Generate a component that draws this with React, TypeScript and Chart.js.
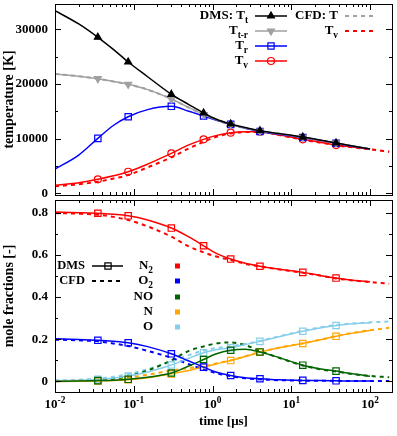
import React, { useEffect, useRef } from "react";
import { Chart, registerables } from "chart.js";

Chart.register(...registerables);

const FONT = '"Liberation Serif", "Times New Roman", serif';

// ---------- data ----------
const timeUs = [0.01, 0.02, 0.035, 0.055, 0.085, 0.15, 0.3, 0.5, 0.77, 1.1, 1.7, 2.6, 4, 7, 14, 25, 37, 60, 100];
const cfdTimeUs = [0.01, 0.02, 0.035, 0.055, 0.085, 0.15, 0.3, 0.5, 0.77, 1.1, 1.7, 2.6, 4, 7, 14, 25, 37, 60, 100, 175];
const markerIndex = [2, 4, 6, 8, 10, 12, 14, 16];

// temperatures [K]
const dmsTt = [33380, 30950, 28520, 26320, 24000, 21310, 18100, 16230, 14680, 13580, 12670, 12030, 11440, 10930, 10290, 9650, 9200, 8650, 8100];
const dmsTtr = [21810, 21400, 20950, 20450, 19920, 18950, 17240, 15700, 14400, 13500, 12600, 11950, 11380, 10880, 10250, 9620, 9180, 8640, 8100];
const dmsTr = [4440, 7000, 10050, 12400, 14000, 15300, 15900, 15000, 14130, 13400, 12600, 11900, 11300, 10800, 10200, 9600, 9150, 8600, 8100];
const dmsTv = [1500, 1950, 2560, 3200, 3950, 5350, 7310, 8850, 9870, 10550, 11080, 11280, 11260, 10700, 9870, 9250, 8830, 8450, 8100];
const cfdT = [21810, 21400, 20950, 20450, 19920, 18950, 17240, 15650, 14350, 13450, 12550, 11900, 11350, 10850, 10200, 9600, 9150, 8600, 8050, 7600];
const cfdTv = [1300, 1650, 2120, 2700, 3350, 4750, 6580, 8200, 9430, 10300, 10950, 11200, 11200, 10650, 9800, 9200, 8780, 8400, 8050, 7600];

// mole fractions [-]
const dmsN2 = [0.803, 0.8, 0.797, 0.792, 0.785, 0.765, 0.727, 0.685, 0.643, 0.608, 0.58, 0.56, 0.546, 0.532, 0.517, 0.5, 0.49, 0.48, 0.472];
const cfdN2 = [0.798, 0.795, 0.79, 0.78, 0.765, 0.735, 0.686, 0.64, 0.612, 0.593, 0.575, 0.558, 0.545, 0.531, 0.515, 0.5, 0.488, 0.479, 0.471, 0.463];
const dmsO2 = [0.202, 0.199, 0.195, 0.19, 0.183, 0.165, 0.131, 0.097, 0.068, 0.045, 0.028, 0.018, 0.013, 0.008, 0.005, 0.004, 0.003, 0.002, 0.002];
const cfdO2 = [0.198, 0.195, 0.19, 0.18, 0.168, 0.145, 0.112, 0.082, 0.057, 0.04, 0.025, 0.015, 0.01, 0.006, 0.004, 0.003, 0.003, 0.002, 0.002, 0.002];
const dmsNO = [0.001, 0.002, 0.004, 0.006, 0.01, 0.02, 0.04, 0.073, 0.104, 0.13, 0.148, 0.153, 0.14, 0.113, 0.077, 0.058, 0.049, 0.036, 0.025];
const cfdNO = [0.001, 0.003, 0.007, 0.013, 0.025, 0.052, 0.1, 0.145, 0.166, 0.18, 0.185, 0.172, 0.145, 0.112, 0.076, 0.056, 0.047, 0.035, 0.026, 0.02];
const dmsN = [0.0, 0.001, 0.002, 0.004, 0.008, 0.017, 0.036, 0.052, 0.068, 0.083, 0.099, 0.118, 0.139, 0.16, 0.18, 0.2, 0.214, 0.229, 0.241];
const cfdN = [0.002, 0.004, 0.008, 0.012, 0.018, 0.032, 0.052, 0.063, 0.072, 0.085, 0.1, 0.119, 0.139, 0.16, 0.181, 0.2, 0.215, 0.23, 0.243, 0.254];
const dmsO = [0.004, 0.006, 0.01, 0.016, 0.026, 0.045, 0.078, 0.11, 0.136, 0.15, 0.16, 0.175, 0.19, 0.212, 0.238, 0.256, 0.265, 0.273, 0.278];
const cfdO = [0.005, 0.008, 0.014, 0.022, 0.035, 0.058, 0.095, 0.125, 0.146, 0.158, 0.167, 0.178, 0.192, 0.214, 0.24, 0.258, 0.267, 0.275, 0.28, 0.284];

const tempTicks = [0, 10000, 20000, 30000];
const tempMinor = [5000, 15000, 25000];
const fracTicks = [0, 0.2, 0.4, 0.6, 0.8];
const fracMinor = [0.1, 0.3, 0.5, 0.7];
const xDecades = [0.01, 0.1, 1, 10, 100];
const xDecadeExp = ["-2", "-1", "0", "1", "2"];

const speciesNames = [
  [{ t: "N" }, { t: "2", sub: true }],
  [{ t: "O" }, { t: "2", sub: true }],
  [{ t: "NO" }],
  [{ t: "N" }],
  [{ t: "O" }],
];
const speciesColors = ["#ff0000", "#0000ff", "#006400", "#ffa500", "#87ceeb"];

// ---------- helpers ----------
type Part = { t: string; sub?: boolean; sup?: boolean };

function setFont(ctx: CanvasRenderingContext2D, size: number) {
  ctx.font = `bold ${size}px ${FONT}`;
}
function richWidth(ctx: CanvasRenderingContext2D, parts: Part[], size: number) {
  let w = 0;
  for (const p of parts) {
    setFont(ctx, p.sub || p.sup ? size * 0.72 : size);
    w += ctx.measureText(p.t).width;
  }
  return w;
}
function drawRich(ctx: CanvasRenderingContext2D, parts: Part[], x: number, y: number, size: number, align: string) {
  const w = richWidth(ctx, parts, size);
  let cx = align === "right" ? x - w : align === "center" ? x - w / 2 : x;
  ctx.textAlign = "left";
  ctx.textBaseline = "middle";
  ctx.fillStyle = "#000";
  for (const p of parts) {
    const s = p.sub || p.sup ? size * 0.72 : size;
    setFont(ctx, s);
    const dy = p.sub ? size * 0.35 : p.sup ? -size * 0.33 : 0;
    ctx.fillText(p.t, cx, y + dy);
    cx += ctx.measureText(p.t).width;
  }
}
function drawMarker(ctx: CanvasRenderingContext2D, shape: string, x: number, y: number, color: string, filled: boolean) {
  ctx.save();
  ctx.setLineDash([]);
  ctx.strokeStyle = color;
  ctx.fillStyle = color;
  ctx.lineWidth = 1.2;
  ctx.beginPath();
  const r = 4;
  if (shape === "triangle" || shape === "triangleDown") {
    const s = shape === "triangle" ? 1 : -1;
    ctx.moveTo(x, y - s * r);
    ctx.lineTo(x + r * 0.866, y + s * r * 0.5);
    ctx.lineTo(x - r * 0.866, y + s * r * 0.5);
    ctx.closePath();
  } else if (shape === "rect") {
    const h = r * Math.SQRT1_2 + 0.3;
    ctx.rect(x - h, y - h, 2 * h, 2 * h);
  } else {
    ctx.arc(x, y, 3.5, 0, Math.PI * 2);
  }
  if (filled) ctx.fill();
  ctx.stroke();
  ctx.restore();
}
function sampleLine(ctx: CanvasRenderingContext2D, x1: number, x2: number, y: number, color: string, dashed: boolean) {
  ctx.save();
  ctx.strokeStyle = color;
  ctx.lineWidth = dashed ? 2 : 1.5;
  ctx.setLineDash(dashed ? [4, 4] : []);
  ctx.beginPath();
  ctx.moveTo(x1, y);
  ctx.lineTo(x2, y);
  ctx.stroke();
  ctx.restore();
}
function drawFrame(chart: any, yMajor: number[], yMinor: number[]) {
  const { ctx, chartArea: a, scales } = chart;
  const x = scales.x;
  const y = scales.y;
  ctx.save();
  ctx.strokeStyle = "#000";
  ctx.lineWidth = 1;
  ctx.setLineDash([]);
  ctx.beginPath();
  for (const d of xDecades) {
    for (let k = 1; k <= 9; k++) {
      const v = k * d;
      if (v < x.min || v > x.max) continue;
      const px = Math.round(x.getPixelForValue(v)) + 0.5;
      const L = k === 1 ? 6 : 3;
      ctx.moveTo(px, a.bottom);
      ctx.lineTo(px, a.bottom - L);
      ctx.moveTo(px, a.top);
      ctx.lineTo(px, a.top + L);
    }
  }
  const yt = (vals: number[], L: number) => {
    for (const v of vals) {
      const py = Math.round(y.getPixelForValue(v)) + 0.5;
      ctx.moveTo(a.left, py);
      ctx.lineTo(a.left + L, py);
      ctx.moveTo(a.right, py);
      ctx.lineTo(a.right - L, py);
    }
  };
  yt(yMajor, 6);
  yt(yMinor, 3);
  ctx.stroke();
  ctx.strokeRect(Math.round(a.left) + 0.5, Math.round(a.top) + 0.5, Math.round(a.right - a.left), Math.round(a.bottom - a.top));
  ctx.restore();
}

const pts = (xs: number[], ys: number[]) => xs.map((x, i) => ({ x, y: ys[i] }));

function dmsLine(label: string, ys: number[], color: string, pointStyle: string, filled: boolean, rotation = 0, r = 4) {
  return {
    label,
    data: pts(timeUs, ys),
    borderColor: color,
    backgroundColor: filled ? color : "rgba(0,0,0,0)",
    borderWidth: 1.5,
    pointStyle,
    pointRotation: rotation,
    pointRadius: (c: any) => (markerIndex.includes(c.dataIndex) ? r : 0),
    pointBorderWidth: 1.2,
    pointBackgroundColor: filled ? color : "rgba(0,0,0,0)",
    pointBorderColor: color,
    cubicInterpolationMode: "monotone",
    fill: false,
  };
}
function cfdLine(label: string, ys: number[], color: string) {
  return {
    label,
    data: pts(cfdTimeUs, ys),
    borderColor: color,
    borderWidth: 2,
    borderDash: [4, 4],
    pointRadius: 0,
    cubicInterpolationMode: "monotone",
    fill: false,
  };
}

function yScale(min: number, max: number, ticks: number[], title: string) {
  return {
    type: "linear",
    min,
    max,
    afterBuildTicks: (s: any) => {
      s.ticks = ticks.map((v) => ({ value: v }));
    },
    afterFit: (s: any) => {
      s.width = 55;
      s.paddingTop = 0;
      s.paddingBottom = 0;
    },
    grid: { display: false, drawTicks: false },
    border: { display: false },
    ticks: {
      font: { family: FONT, size: 13, weight: "bold" },
      color: "#000",
      padding: 7,
      autoSkip: false,
      callback: (v: any) => String(v),
    },
    title: {
      display: true,
      text: title,
      font: { family: FONT, size: 14, weight: "bold" },
      color: "#000",
      padding: { top: 1, bottom: 0 },
    },
  };
}
const xScale = { type: "logarithmic", min: 0.01, max: 190, display: false };

function baseOptions(padding: any, y: any) {
  return {
    responsive: false,
    maintainAspectRatio: false,
    animation: false,
    devicePixelRatio: 1,
    events: [],
    layout: { padding },
    plugins: { legend: { display: false }, tooltip: { enabled: false } },
    scales: { x: xScale, y },
  };
}

function topConfig(): any {
  const decor = {
    id: "decorTop",
    afterDraw(chart: any) {
      const ctx = chart.ctx;
      drawFrame(chart, tempTicks, tempMinor);
      const rows = [16, 31, 46, 61];
      const left: [Part[], string, string, boolean][] = [
        [[{ t: "DMS: T" }, { t: "t", sub: true }], "#000000", "triangle", true],
        [[{ t: "T" }, { t: "t-r", sub: true }], "#a0a0a0", "triangleDown", true],
        [[{ t: "T" }, { t: "r", sub: true }], "#0000ff", "rect", false],
        [[{ t: "T" }, { t: "v", sub: true }], "#ff0000", "circle", false],
      ];
      left.forEach(([parts, color, shape, filled], i) => {
        drawRich(ctx, parts, 248, rows[i], 13, "right");
        sampleLine(ctx, 255, 287, rows[i], color, false);
        drawMarker(ctx, shape, 271, rows[i], color, filled);
      });
      drawRich(ctx, [{ t: "CFD: T" }], 338, rows[0], 13, "right");
      sampleLine(ctx, 345, 375, rows[0], "#a0a0a0", true);
      drawRich(ctx, [{ t: "T" }, { t: "v", sub: true }], 338, rows[1], 13, "right");
      sampleLine(ctx, 345, 375, rows[1], "#ff0000", true);
    },
  };
  return {
    type: "line",
    data: {
      datasets: [
        dmsLine("DMS Tt", dmsTt, "#000000", "triangle", true),
        dmsLine("DMS Tt-r", dmsTtr, "#a0a0a0", "triangle", true, 180),
        dmsLine("DMS Tr", dmsTr, "#0000ff", "rect", false, 0, 4.5),
        dmsLine("DMS Tv", dmsTv, "#ff0000", "circle", false, 0, 3.5),
        cfdLine("CFD Tv", cfdTv, "#ff0000"),
        cfdLine("CFD T", cfdT, "#a0a0a0"),
      ],
    },
    options: baseOptions({ left: 0, right: 5, top: 4, bottom: 5 }, yScale(-300, 34600, tempTicks, "temperature [K]")),
    plugins: [decor],
  };
}

function botConfig(): any {
  const decor = {
    id: "decorBot",
    afterDraw(chart: any) {
      const ctx = chart.ctx;
      const a = chart.chartArea;
      drawFrame(chart, fracTicks, fracMinor);
      // x tick labels
      xDecades.forEach((d, i) => {
        const px = chart.scales.x.getPixelForValue(d);
        drawRich(ctx, [{ t: "10" }, { t: xDecadeExp[i], sup: true }], px, a.bottom + 13, 13, "center");
      });
      drawRich(ctx, [{ t: "time [μs]" }], (a.left + a.right) / 2, a.bottom + 30, 13, "center");
      // legend (canvas top is at page y 197)
      const off = 197;
      drawRich(ctx, [{ t: "DMS" }], 85, 266 - off, 12.5, "right");
      sampleLine(ctx, 92, 123, 266 - off, "#000", false);
      drawMarker(ctx, "rect", 108, 266 - off, "#000", false);
      drawRich(ctx, [{ t: "CFD" }], 85, 281 - off, 12.5, "right");
      sampleLine(ctx, 92, 123, 281 - off, "#000", true);
      const rows = [266, 281, 297, 312, 327];
      speciesNames.forEach((parts, i) => {
        drawRich(ctx, parts as Part[], 153, rows[i] - off, 13, "right");
        ctx.fillStyle = speciesColors[i];
        ctx.fillRect(175, rows[i] - off - 2.5, 5, 5);
      });
    },
  };
  const dms = [dmsN2, dmsO2, dmsNO, dmsN, dmsO];
  const cfd = [cfdN2, cfdO2, cfdNO, cfdN, cfdO];
  const labels = ["N2", "O2", "NO", "N", "O"];
  return {
    type: "line",
    data: {
      datasets: [
        ...dms.map((ys, i) => dmsLine("DMS " + labels[i], ys, speciesColors[i], "rect", false, 0, 4.5)),
        ...cfd.map((ys, i) => cfdLine("CFD " + labels[i], ys, speciesColors[i])),
      ],
    },
    options: baseOptions({ left: 0, right: 5, top: 3, bottom: 44 }, yScale(-0.05, 0.86, fracTicks, "mole fractions [-]")),
    plugins: [decor],
  };
}

export default function App() {
  const topRef = useRef<HTMLCanvasElement>(null);
  const botRef = useRef<HTMLCanvasElement>(null);
  useEffect(() => {
    const c1 = new Chart(topRef.current as HTMLCanvasElement, topConfig());
    const c2 = new Chart(botRef.current as HTMLCanvasElement, botConfig());
    return () => {
      c1.destroy();
      c2.destroy();
    };
  }, []);
  return (
    <div style={{ position: "fixed", left: 0, top: 0, width: 397, height: 436, background: "#fff" }}>
      <canvas ref={topRef} width={397} height={200} style={{ position: "absolute", left: 0, top: 0 }} />
      <canvas ref={botRef} width={397} height={239} style={{ position: "absolute", left: 0, top: 197 }} />
    </div>
  );
}
